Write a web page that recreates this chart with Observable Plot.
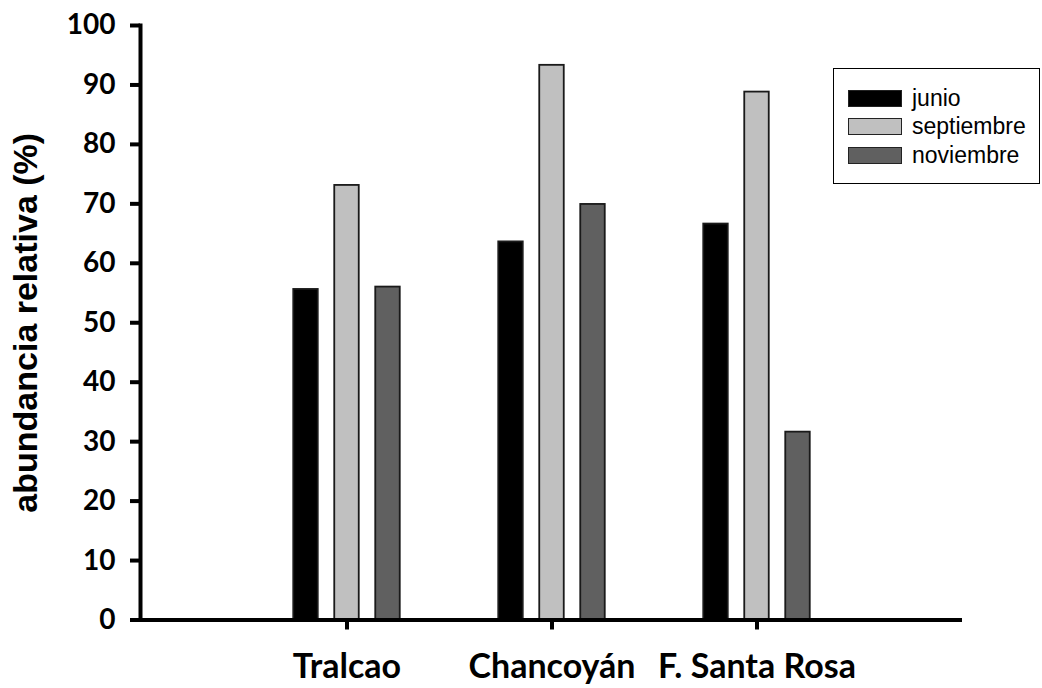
<!DOCTYPE html>
<html><head><meta charset="utf-8">
<script src="https://cdn.jsdelivr.net/npm/d3@7"></script>
<script src="https://cdn.jsdelivr.net/npm/@observablehq/plot@0.6"></script>
<style>
body{margin:0;background:#fff}
#wrap{position:relative;width:1042px;height:688px}
#legend{position:absolute;left:833px;top:68px;width:207px;height:116px;border:1px solid #000;box-sizing:border-box;font-family:"Liberation Sans",Arial,sans-serif;font-size:23px;background:#fff;color:#000}
.row{position:absolute;left:14px;display:flex;align-items:center;height:20px;white-space:nowrap}
.sw{width:54px;height:17px;box-sizing:border-box;border:1.5px solid #222;margin-right:10px}
</style></head><body><div id="wrap"></div>
<script>
// ---- data ----
const sites = ["Tralcao", "Chancoyán", "F. Santa Rosa"];
const months = ["junio", "septiembre", "noviembre"];
const junio = [55.6, 63.6, 66.6];
const septiembre = [73.1, 93.3, 88.8];
const noviembre = [56.0, 69.9, 31.6];
const colors = ["#000000", "#c0c0c0", "#606060"];
const yTicks = [0, 10, 20, 30, 40, 50, 60, 70, 80, 90, 100];
const yLabel = "abundancia relativa (%)";

const series = [junio, septiembre, noviembre];
const data = [];
months.forEach((m, i) => sites.forEach((s, j) => data.push({site: s, month: m, value: series[i][j]})));

// ---- layout ----
const W = 1042, H = 688, mL = 140, mR = 80, mT = 25, mB = 68.5;
const band = (W - mL - mR) / (sites.length + 1); // paddingOuter 0.5, paddingInner 0
const barW = 25, barStep = 41;

const barMarks = months.map((m, i) => {
  const off = (i - (months.length - 1) / 2) * barStep;
  const insetLeft = band / 2 + off - barW / 2;
  return Plot.barY(data.filter(d => d.month === m), {
    x: "site", y: "value", fill: colors[i],
    stroke: "#1a1a1a", strokeWidth: 1.8,
    insetLeft, insetRight: band - insetLeft - barW
  });
});

const chart = Plot.plot({
  width: W, height: H,
  marginLeft: mL, marginRight: mR, marginTop: mT, marginBottom: mB,
  style: {background: "white", color: "black", overflow: "visible"},
  x: {type: "band", domain: sites, paddingInner: 0, paddingOuter: 0.5, align: 0.5},
  y: {domain: [0, 100]},
  marks: [
    ...barMarks,
    Plot.ruleY([0], {strokeWidth: 4}),
    Plot.frame({anchor: "left", strokeWidth: 4}),
    Plot.axisY({ticks: yTicks, tickSize: 10, tickPadding: 15, strokeWidth: 4,
      fontSize: 28, fontWeight: "bold", fontFamily: "Lato", label: null}),
    Plot.axisY({ticks: yTicks, tickSize: 0, tickFormat: () => "", label: yLabel,
      labelAnchor: "center", labelOffset: 128, labelArrow: false, dy: 14,
      fontSize: 34, fontWeight: "bold", fontFamily: "Liberation Sans"}),
    Plot.axisX({tickSize: 10, tickPadding: 24, strokeWidth: 4,
      fontSize: 34, fontWeight: "bold", fontFamily: "Lato", label: null})
  ]
});

const wrap = document.getElementById("wrap");
wrap.appendChild(chart);

// legend
const leg = document.createElement("div");
leg.id = "legend";
const rowTops = [19, 47, 76];
months.forEach((m, i) => {
  const r = document.createElement("div");
  r.className = "row";
  r.style.top = rowTops[i] + "px";
  const sw = document.createElement("div");
  sw.className = "sw";
  sw.style.background = colors[i];
  const t = document.createElement("span");
  t.textContent = m;
  r.appendChild(sw); r.appendChild(t);
  leg.appendChild(r);
});
wrap.appendChild(leg);
</script>
</body></html>
